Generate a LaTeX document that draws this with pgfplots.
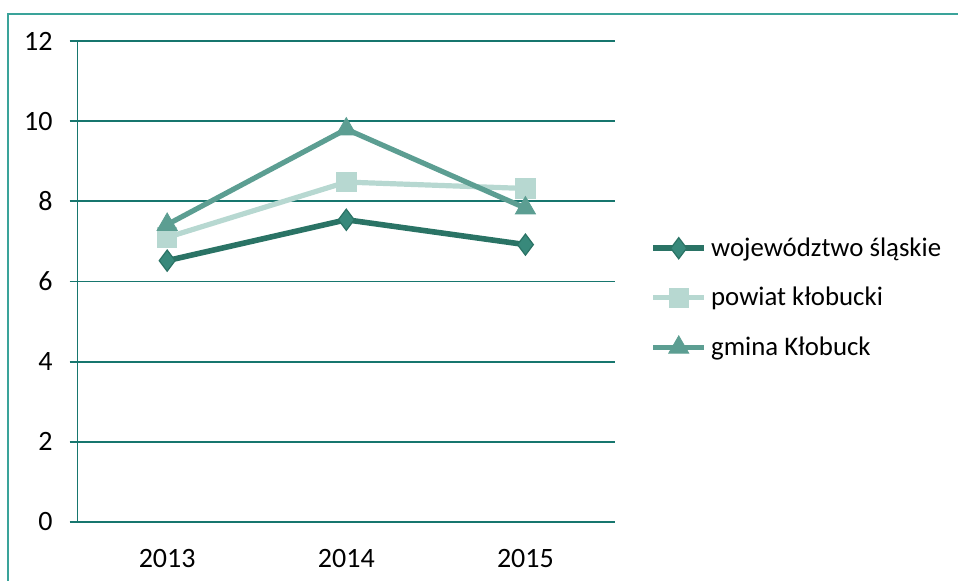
\documentclass[border=0pt]{standalone}
\usepackage{fontspec}
\setmainfont{Carlito}
\usepackage{pgfplots}
\pgfplotsset{compat=1.18}
\definecolor{gridc}{HTML}{17766E}
\definecolor{framec}{HTML}{3AA39A}
\definecolor{woj}{HTML}{2A7365}
\definecolor{wojm}{HTML}{38897B}
\definecolor{pow}{HTML}{B7D8D1}
\definecolor{gmi}{HTML}{5C9E92}
\begin{document}
\begin{tikzpicture}
\path[use as bounding box] (0,0) rectangle (479pt,290.5pt);
\draw[framec, line width=0.8pt] (4pt,0) -- (4pt,283.5pt) -- (479pt,283.5pt);
\begin{axis}[
  at={(38.8pt,29.5pt)}, anchor=south west,
  scale only axis, width=268.7pt, height=240.5pt,
  xmin=-0.5, xmax=2.5, ymin=0, ymax=12,
  xtick={0,1,2}, xticklabels={2013,2014,2015},
  ytick={0,2,4,6,8,10,12},
  axis x line*=bottom, axis y line*=left,
  axis line style={gridc, line width=0.9pt},
  ymajorgrids, major grid style={gridc, line width=0.9pt},
  major tick length=4pt,
  tick style={gridc, line width=0.9pt},
  x tick style={draw=none},
  tick align=outside,
  extra x ticks={-0.5,0.5,1.5,2.5}, extra x tick labels={},
  extra x tick style={tick style={draw=gridc, line width=0.9pt}, grid=none},
  /pgf/number format/assume math mode=true,
  tick label style={font=\fontsize{14}{16}\selectfont, black},
  yticklabel style={xshift=-5pt},
  xticklabel style={yshift=-6pt},
  legend style={at={(1.065,0.466)}, anchor=west, draw=none, fill=none,
    font=\fontsize{13.4}{15}\selectfont, row sep=10pt, inner sep=0pt},
  legend cell align=left,
  legend image code/.code={
    \draw[#1, mark repeat=2, mark phase=2] plot coordinates {(0cm,0cm) (0.45cm,0cm) (0.9cm,0cm)};
  },
]
\addplot[color=woj, line width=2.8pt, mark=diamond*, mark size=5.3pt,
  mark options={fill=wojm, draw=woj, line width=0.6pt}]
  coordinates {(0,6.52) (1,7.54) (2,6.92)};
\addlegendentry{województwo śląskie}
\addplot[color=pow, line width=2.6pt, mark=square*, mark size=4.8pt,
  mark options={fill=pow, draw=pow, line width=0.4pt}]
  coordinates {(0,7.1) (1,8.48) (2,8.32)};
\addlegendentry{powiat kłobucki}
\addplot[color=gmi, line width=2.6pt, mark=triangle*, mark size=5.8pt,
  mark options={fill=gmi, draw=gmi, line width=0.4pt}]
  coordinates {(0,7.42) (1,9.8) (2,7.83)};
\addlegendentry{gmina Kłobuck}
\end{axis}
\end{tikzpicture}
\end{document}
